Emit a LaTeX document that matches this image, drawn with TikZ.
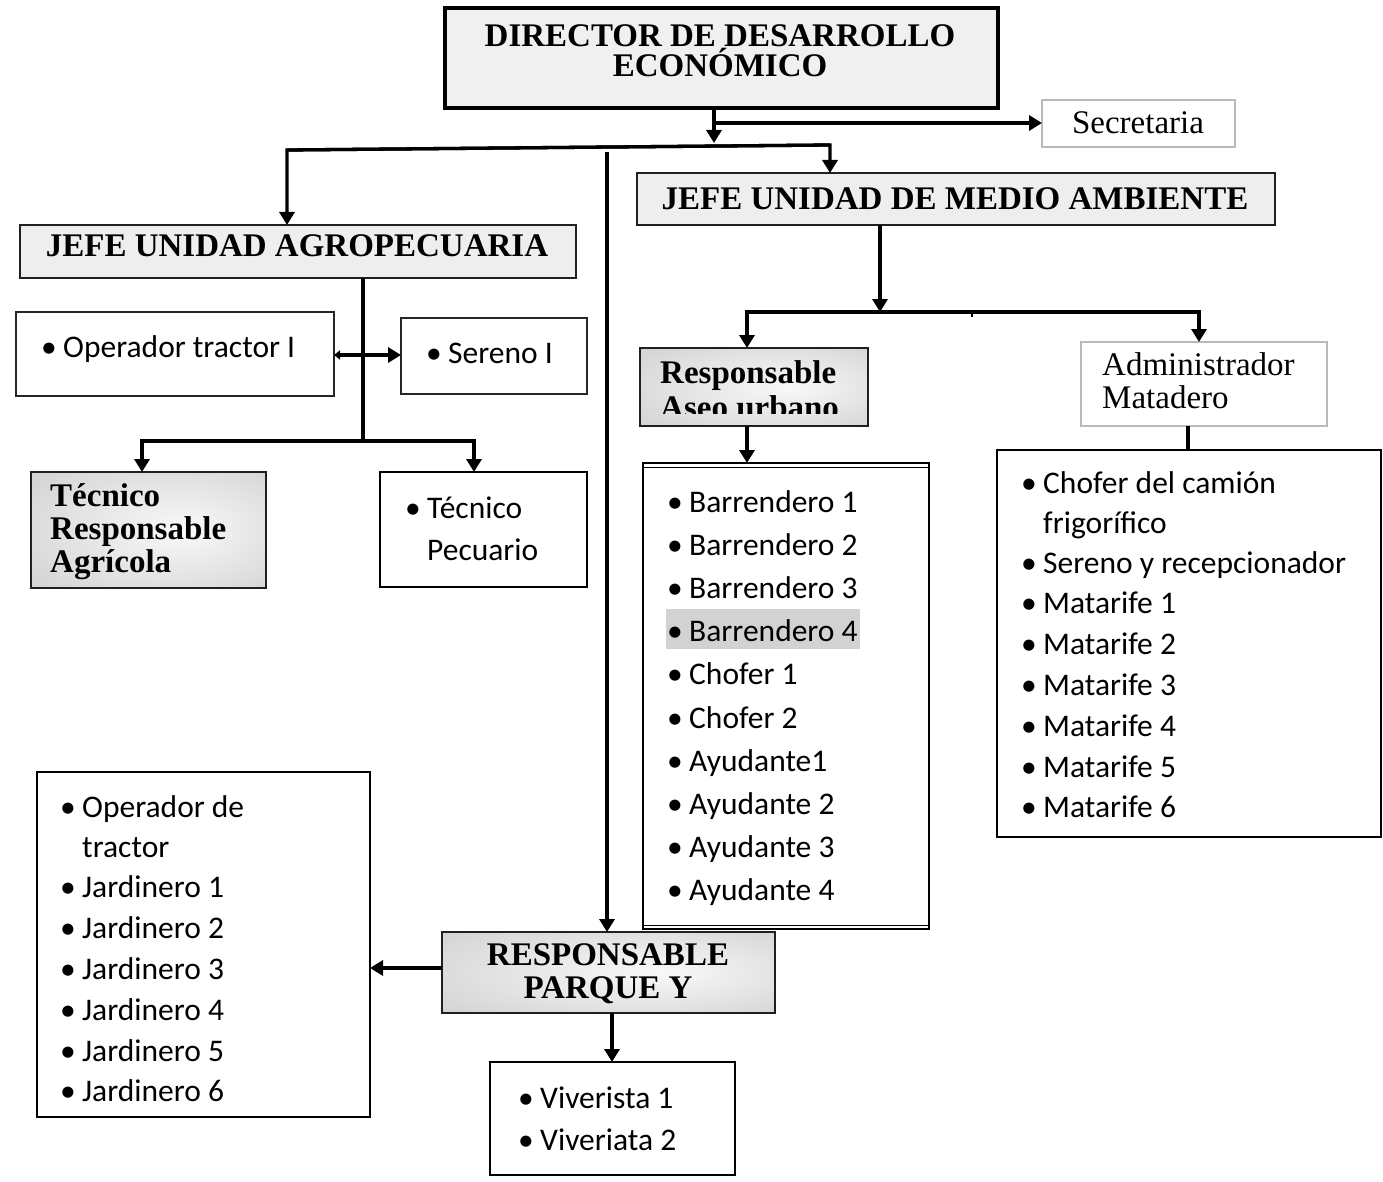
\documentclass[tikz,border=0pt]{standalone}
\usepackage{fontspec}
\setmainfont{Liberation Serif}
\newfontfamily\calfont{Carlito}
\usetikzlibrary{arrows.meta}
\pgfdeclareradialshading{softrad}{\pgfpoint{8bp}{0bp}}{color(0bp)=(gray!5); color(50bp)=(gray!45)}
\newcommand{\sfz}{\calfont\fontsize{31.5}{38}\selectfont}
\newcommand{\sez}{\fontsize{33}{38}\selectfont}
\newcommand{\sezb}{\fontsize{33}{38}\selectfont\bfseries}
\newcommand{\bul}[1]{\makebox[22pt][l]{\textbullet}#1}
\tikzset{
  basebox/.style={inner sep=0pt, outer sep=0pt, anchor=north west},
  dirbox/.style={basebox, draw=black, line width=3.5pt, fill=gray!12},
  jefebox/.style={basebox, draw=gray!25!black, line width=2pt, fill=gray!13},
  shbox/.style={basebox, draw=gray!25!black, line width=2pt, shading=softrad},
  thinbox/.style={basebox, draw=gray!55, line width=1.6pt, fill=white},
  listbox/.style={basebox, draw=black, line width=1.8pt, fill=white},
  sftext/.style={inner sep=0pt, anchor=base west, font=\sfz},
  setext/.style={inner sep=0pt, anchor=base west, font=\sez},
  setextb/.style={inner sep=0pt, anchor=base west, font=\sezb},
  setextc/.style={inner sep=0pt, anchor=base, font=\sezb},
  conn/.style={line width=3.3pt, black, line join=miter},
  arr/.style={conn, -{Triangle[length=13pt,width=15pt]}},
  arrboth/.style={conn, {Triangle[length=6pt,width=9pt]}-{Triangle[length=13pt,width=15pt]}},
}
\begin{document}
\begin{tikzpicture}[x=1pt,y=-1pt]
\useasboundingbox[fill=white] (0,0) rectangle (1383,1182);

% boxes
\node[dirbox, minimum width=553pt, minimum height=100pt] (dir) at (445,8) {};
\node[thinbox, minimum width=193pt, minimum height=47pt] (sec) at (1042,100) {};
\node[jefebox, minimum width=638pt, minimum height=52pt] (ma) at (637,173) {};
\node[jefebox, minimum width=556pt, minimum height=53pt] (agro) at (20,225) {};
\node[listbox, minimum width=318pt, minimum height=84pt, draw=gray!30!black] (op) at (16,312) {};
\node[listbox, minimum width=186pt, minimum height=76pt, draw=gray!30!black] (ser) at (401,318) {};
\node[shbox, minimum width=235pt, minimum height=116pt] (tec) at (31,472) {};
\node[listbox, minimum width=207pt, minimum height=115pt] (pec) at (380,472) {};
\node[shbox, minimum width=228pt, minimum height=78pt] (aseo) at (640,348) {};
\node[thinbox, minimum width=246pt, minimum height=84pt] (adm) at (1081,342) {};
\node[listbox, minimum width=286pt, minimum height=466pt] (barr) at (643,463) {};
\node[listbox, minimum width=384pt, minimum height=387pt] (mat) at (997,450) {};
\node[listbox, minimum width=333pt, minimum height=345pt] (jard) at (37,772) {};
\node[shbox, minimum width=333pt, minimum height=81pt] (parque) at (442,932) {};
\node[listbox, minimum width=245pt, minimum height=113pt] (viv) at (490,1062) {};

\draw[line width=1pt] ([yshift=-4pt]barr.north west) -- ([yshift=-4pt]barr.north east);
\draw[line width=1pt] ([yshift=4pt]barr.south west) -- ([yshift=4pt]barr.south east);

% texts
\node[setextc] (t-dir1) at (720,47) {DIRECTOR DE DESARROLLO};
\node[setextc] (t-dir2) at (720,77) {ECONÓMICO};
\node[inner sep=0pt, anchor=base, font=\sez] (t-sec) at (1138,134) {Secretaria};
\node[setextc] (t-ma) at (955,210) {JEFE UNIDAD DE MEDIO AMBIENTE};
\node[setextc] (t-agro) at (297,257) {JEFE UNIDAD AGROPECUARIA};
\node[sftext] (t-op) at (41,357) {\bul{Operador tractor I}};
\node[sftext] (t-ser) at (426,363) {\bul{Sereno I}};
\node[setextb] (t-tec1) at (50,506) {Técnico};
\node[setextb] (t-tec2) at (50,539) {Responsable};
\node[setextb] (t-tec3) at (50,572) {Agrícola};
\node[sftext] (t-pec1) at (405,518) {\bul{Técnico}};
\node[sftext] (t-pec2) at (427,560) {Pecuario};
\node[setextb] (t-aseo1) at (660,383) {Responsable};
\begin{scope}
  \clip (640,340) rectangle (868,413);
  \node[setextb] (t-aseo2) at (660,418) {Aseo urbano};
\end{scope}
\node[setext] (t-adm1) at (1102,375) {Administrador};
\node[setext] (t-adm2) at (1102,408) {Matadero};

\fill[gray!35] (666,609) rectangle (860,649);
\foreach \t [count=\i from 0] in {Barrendero 1,Barrendero 2,Barrendero 3,Barrendero 4,Chofer 1,Chofer 2,Ayudante1,Ayudante 2,Ayudante 3,Ayudante 4}
  \node[sftext] (t-barr\i) at (667,{512+43.2*\i}) {\bul{\t}};

\node[sftext] (t-mat1) at (1021,493) {\bul{Chofer del camión}};
\node[sftext] (t-mat2) at (1043,533) {frigorífico};
\node[sftext] (t-mat3) at (1021,573) {\bul{Sereno y recepcionador}};
\foreach \i in {1,...,6}
  \node[sftext] (t-mf\i) at (1021,{573+40.8*\i}) {\bul{Matarife \i}};

\node[sftext] (t-j1) at (60,817) {\bul{Operador de}};
\node[sftext] (t-j2) at (82,857) {tractor};
\foreach \i in {1,...,6}
  \node[sftext] (t-jd\i) at (60,{857+40.8*\i}) {\bul{Jardinero \i}};

\node[setextc] (t-par1) at (608,965) {RESPONSABLE};
\node[setextc] (t-par2) at (608,998) {PARQUE Y};
\node[sftext] (t-v1) at (518,1108) {\bul{Viverista 1}};
\node[sftext] (t-v2) at (518,1150) {\bul{Viveriata 2}};

% connectors
\coordinate (j0) at (714,123);
\coordinate (jd) at (714,143);
\draw[arr] (dir.south -| jd) -- (jd);
\draw[arr] (j0) -- (j0 -| sec.west);
\coordinate (hL) at (287,150);
\coordinate (hR) at (830,145);
\draw[arr] (hR) -- (hL) -- (hL |- agro.north);
\draw[arr] (hL) -- (hR) -- (hR |- ma.north);
\coordinate (vT) at (607,152);
\draw[arr] (vT) -- (vT |- parque.north);

\coordinate (mj) at (880,312);
\draw[arr] (ma.south -| mj) -- (mj);
\coordinate (mL) at (747,312);
\coordinate (mR) at (1199,312);
\draw[arr] (mR) -- (mL) -- (mL |- aseo.north);
\draw[arr] (mL) -- (mR) -- (mR |- adm.north);
\coordinate (tk) at (972,312);
\draw[line width=2pt] (tk) -- ++(0,5);
\draw[arr] (aseo.south -| mL) -- (barr.north -| mL);
\coordinate (am) at (1188,0);
\draw[conn] (adm.south -| am) -- (mat.north -| am);

\coordinate (aj) at (363,441);
\draw[conn] (agro.south -| aj) -- (aj);
\coordinate (aL) at (142,441);
\coordinate (aR) at (474,441);
\draw[arr] (aR) -- (aL) -- (aL |- tec.north);
\draw[arr] (aL) -- (aR) -- (aR |- pec.north);
\coordinate (os) at (0,355);
\draw[arrboth] (op.east |- os) -- (ser.west |- os);

\coordinate (pj) at (0,968);
\draw[arr] (parque.west |- pj) -- (jard.east |- pj);
\coordinate (pv) at (612,0);
\draw[arr] (parque.south -| pv) -- (viv.north -| pv);
\end{tikzpicture}
\end{document}
